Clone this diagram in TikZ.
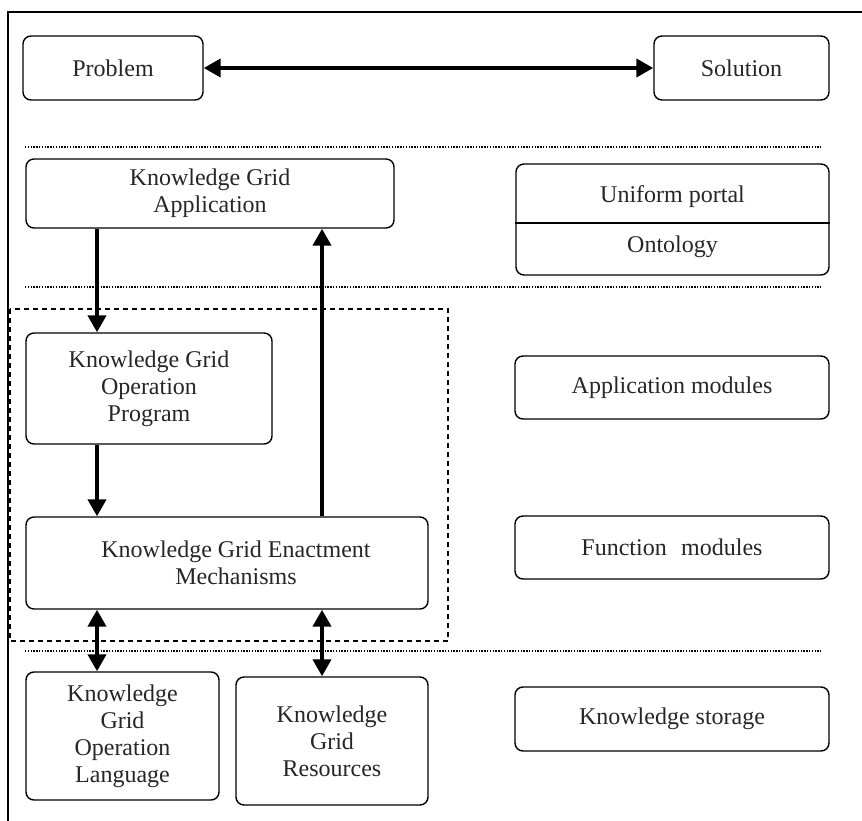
\documentclass[tikz,border=0pt]{standalone}
\usepackage{fontspec}
\setmainfont{Liberation Serif}
\usetikzlibrary{arrows.meta,calc}
\begin{document}
\begin{tikzpicture}[x=1pt,y=-1pt,
  box/.style={draw,line width=1.4pt,rounded corners=8pt,inner sep=0pt,align=center,
    font=\fontsize{24}{27}\selectfont,text=black!85},
  lbl/.style={font=\fontsize{24}{27}\selectfont,text=black!85},
  arr/.style={line width=4pt,-{Triangle[length=17pt,width=18pt]}},
  darr/.style={line width=4pt,{Triangle[length=17pt,width=18pt]}-{Triangle[length=17pt,width=18pt]}},
  sep/.style={line width=1.3pt,dash pattern=on 1.3pt off 1.5pt},
  grp/.style={line width=1.4pt,dash pattern=on 5pt off 4pt},
  frame/.style={line width=1.4pt}]
\useasboundingbox (0,0) rectangle (862,821);
% outer frame (top and left edges)
\coordinate (fTR) at (862,12);
\coordinate (fTL) at (8,12);
\coordinate (fBL) at (8,821);
\draw[frame] (fTR) -- (fTL) -- (fBL);
% separators
\draw[sep] (25,147) -- (821,147);
\draw[sep] (25,287) -- (821,287);
\draw[sep] (25,651) -- (821,651);
% dashed group
\draw[grp] (10,309) rectangle (448,641);
% columns for connectors
\coordinate (colL) at (97,0);
\coordinate (colR) at (322,0);
% nodes
\node[box,minimum width=180pt,minimum height=64pt] (problem) at (113,68) {Problem};
\node[box,minimum width=175pt,minimum height=64pt] (solution) at (741.5,68) {Solution};
\node[box,minimum width=368pt,minimum height=69pt] (app) at (210,193.5) {Knowledge Grid\\Application};
\node[box,minimum width=313pt,minimum height=111pt] (portal) at (672.5,219.5) {};
\coordinate (div) at (0,223);
\draw[line width=1.4pt] (portal.west |- div) -- (portal.east |- div);
\node[lbl] (uni) at (672.5,197) {Uniform portal};
\node[lbl] (onto) at (672.5,247) {Ontology};
\node[box,minimum width=246pt,minimum height=111pt] (prog) at (149,388.5) {Knowledge Grid\\Operation\\Program};
\node[box,minimum width=402pt,minimum height=92pt] (enact) at (227,563) {\hspace*{18pt}Knowledge Grid Enactment\\\hspace*{18pt}Mechanisms};
\node[box,minimum width=193pt,minimum height=128pt] (kgol) at (122.5,736) {Knowledge\\Grid\\Operation\\Language};
\node[box,minimum width=192pt,minimum height=128pt] (kgr) at (332,741) {Knowledge\\Grid\\Resources};
\node[box,minimum width=314pt,minimum height=63pt] (appmod) at (672,387.5) {Application modules};
\node[box,minimum width=314pt,minimum height=63pt] (funmod) at (672,547.5) {Function\hspace{0.6em}modules};
\node[box,minimum width=314pt,minimum height=64pt] (kstor) at (672,719) {Knowledge storage};
% connectors
\draw[darr] (problem.east) -- (solution.west);
\draw[arr] (app.south -| colL) -- (prog.north -| colL);
\draw[arr] (prog.south -| colL) -- (enact.north -| colL);
\draw[arr] (enact.north -| colR) -- (app.south -| colR);
\draw[darr] (enact.south -| colL) -- (kgol.north -| colL);
\draw[darr] (enact.south -| colR) -- (kgr.north -| colR);
\end{tikzpicture}
\end{document}
